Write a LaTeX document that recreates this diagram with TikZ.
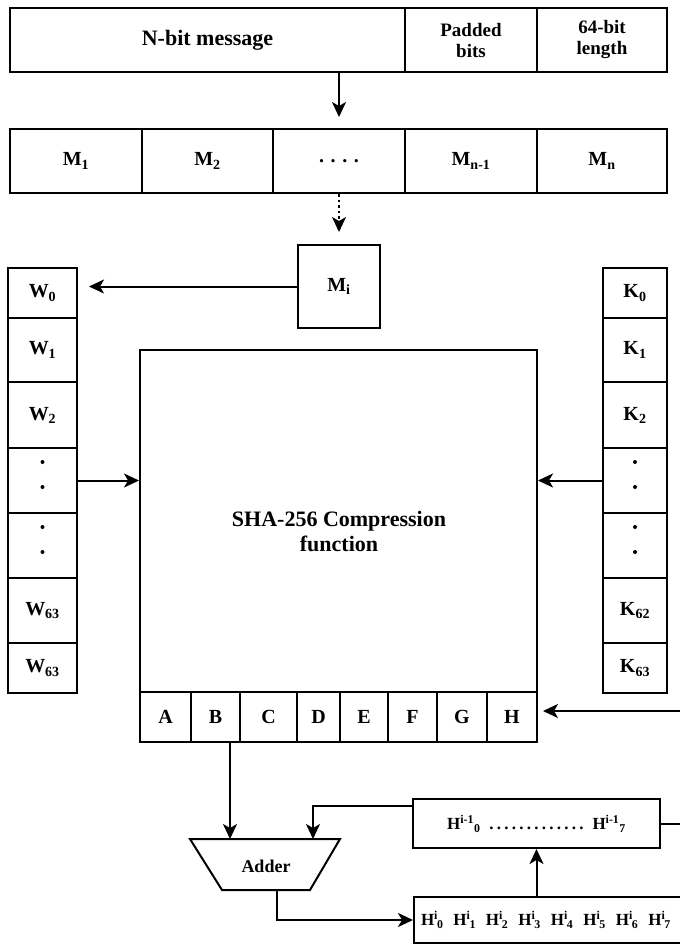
\documentclass[tikz,border=0pt]{standalone}
\usepackage{fontspec}
\setmainfont{Liberation Serif}
\usetikzlibrary{arrows.meta,calc}
\newcommand{\hsupsub}[2]{H\textsuperscript{#1}\kern-1pt\textsubscript{#2}}
\begin{document}
\begin{tikzpicture}[x=1pt,y=-1pt,
  box/.style={draw, line width=2pt, inner sep=0pt, align=center,
    font=\fontsize{20}{23}\selectfont\bfseries},
  bigtext/.style={font=\fontsize{22}{25}\selectfont\bfseries, align=center, inner sep=0pt},
  arr/.style={-{Stealth[length=15pt,width=14pt,inset=4pt]}, line width=2pt},
  plain/.style={line width=2pt},
  dotarrow/.style={arr, dash pattern=on 2.5pt off 3pt},
  wcol/.style={box, minimum width=69},
  kcol/.style={box, minimum width=64},
  reg/.style={box, minimum height=50},
  blob/.style={fill=black}]
\useasboundingbox (0,0) rectangle (680,946);
\clip (0,0) rectangle (680,946);

% top row
\node[box, bigtext, draw, minimum width=395, minimum height=64] (nbit) at (207.5,40) {N-bit message};
\node[box, bigtext, draw, minimum width=132, minimum height=64, font=\fontsize{19}{21}\selectfont\bfseries] (pad) at (471,40) {Padded\\bits};
\node[box, bigtext, draw, minimum width=130, minimum height=64, font=\fontsize{19}{21}\selectfont\bfseries] (len) at (602,40) {64-bit\\length};

% second row
\node[box, minimum width=132, minimum height=64] (m1) at (76,161) {M\textsubscript{1}};
\node[box, minimum width=131, minimum height=64] (m2) at (207.5,161) {M\textsubscript{2}};
\node[box, minimum width=132, minimum height=64] (m3) at (339,161) {. . . .};
\node[box, minimum width=132, minimum height=64] (m4) at (471,161) {M\textsubscript{n-1}};
\node[box, minimum width=130, minimum height=64] (m5) at (602,161) {M\textsubscript{n}};

% Mi
\node[box, minimum width=82, minimum height=83] (Mi) at (339,286.5) {M\textsubscript{i}};

% W column
\node[wcol, minimum height=50] (w0) at (42.5,293) {W\textsubscript{0}};
\node[wcol, minimum height=64] (w1) at (42.5,350) {W\textsubscript{1}};
\node[wcol, minimum height=66] (w2) at (42.5,415) {W\textsubscript{2}};
\node[wcol, minimum height=65] (w3) at (42.5,480.5) {};
\node[wcol, minimum height=65] (w4) at (42.5,545.5) {};
\node[wcol, minimum height=65] (w5) at (42.5,610.5) {W\textsubscript{63}};
\node[wcol, minimum height=50] (w6) at (42.5,668) {W\textsubscript{63}};

% K column
\node[kcol, minimum height=50] (k0) at (635,293) {K\textsubscript{0}};
\node[kcol, minimum height=64] (k1) at (635,350) {K\textsubscript{1}};
\node[kcol, minimum height=66] (k2) at (635,415) {K\textsubscript{2}};
\node[kcol, minimum height=65] (k3) at (635,480.5) {};
\node[kcol, minimum height=65] (k4) at (635,545.5) {};
\node[kcol, minimum height=65] (k5) at (635,610.5) {K\textsubscript{62}};
\node[kcol, minimum height=50] (k6) at (635,668) {K\textsubscript{63}};

% dots in the dotted cells
\foreach \c in {w3,w4,k3,k4}{
  \fill[blob] ($(\c.north)+(0,15)$) circle (2);
  \fill[blob] ($(\c.north)+(0,40)$) circle (2);
}

% main box
\node[box, minimum width=397, minimum height=342] (main) at (338.5,521) {};
\node[bigtext] (title) at (339,531) {SHA-256 Compression\\function};

% registers
\node[reg, minimum width=51] (rA) at (165.5,717) {A};
\node[reg, minimum width=49] (rB) at (215.5,717) {B};
\node[reg, minimum width=57] (rC) at (268.5,717) {C};
\node[reg, minimum width=43] (rD) at (318.5,717) {D};
\node[reg, minimum width=48] (rE) at (364,717) {E};
\node[reg, minimum width=49] (rF) at (412.5,717) {F};
\node[reg, minimum width=50] (rG) at (462,717) {G};
\node[reg, minimum width=50] (rH) at (512,717) {H};

% adder
\coordinate (ad1) at (190,839);
\coordinate (ad2) at (340,839);
\coordinate (ad3) at (310,890);
\coordinate (ad4) at (222,890);
\draw[plain, line join=miter] (ad1) -- (ad2) -- (ad3) -- (ad4) -- cycle;
\node[box, draw=none, font=\fontsize{18}{20}\selectfont\bfseries] (adder) at (266,866) {Adder};
\coordinate (a1) at (230,839);
\coordinate (a2) at (313,839);
\coordinate (aout) at (277,890);

% H^{i-1} box
\node[box, minimum width=247, minimum height=49, font=\fontsize{17}{20}\selectfont\bfseries] (hp) at (536.5,823.5)
  {H\textsuperscript{i-1}\textsubscript{0}\hspace{6pt}\makebox[100pt]{\dotfill}\hspace{6pt}H\textsuperscript{i-1}\textsubscript{7}};

% H^i box
\node[box, anchor=west, minimum width=290, minimum height=46, align=left, text width=300, inner xsep=7pt,
  font=\fontsize{17}{20}\selectfont\bfseries] (hi) at (413,920)
  {\hsupsub{i}{0}\hspace{10pt}\hsupsub{i}{1}\hspace{10pt}\hsupsub{i}{2}\hspace{10pt}\hsupsub{i}{3}\hspace{10pt}\hsupsub{i}{4}\hspace{10pt}\hsupsub{i}{5}\hspace{10pt}\hsupsub{i}{6}\hspace{10pt}\hsupsub{i}{7}};

% connectors
\draw[arr, shorten >=11pt] (nbit.south -| m3) -- (m3.north);
\draw[dotarrow, shorten >=12pt] (m3.south) -- (Mi.north);
\draw[arr, shorten >=11pt] (Mi.west) -- (Mi.west -| w0.east);
\draw[arr] (w3.east) -- (w3.east -| main.west);
\draw[arr] (k3.west) -- (k3.west -| main.east);
\draw[arr, shorten >=5pt] (hp.east) -- ++(23,0) |- ($(rH.east)+(0,-6)$);
\draw[arr] (rB.south -| a1) -- (a1);
\draw[arr] ($(hp.north west)+(0,8)$) -| (a2);
\draw[arr] (aout) |- (hi.west);
\draw[arr] (hi.north -| hp.south) -- (hp.south);
\end{tikzpicture}
\end{document}
